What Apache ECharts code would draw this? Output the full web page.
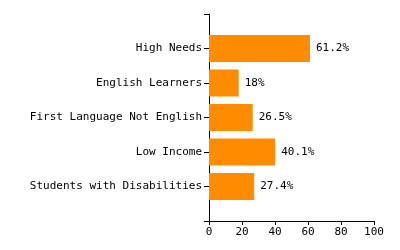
<!DOCTYPE html>
<html>
<head>
<meta charset="utf-8">
<script src="https://cdn.jsdelivr.net/npm/echarts@6/dist/echarts.min.js"></script>
<style>
  html, body { margin: 0; padding: 0; background: #fff; }
  #chart { width: 400px; height: 250px; }
</style>
</head>
<body>
<div id="chart"></div>
<script>
// top to bottom, as in the picture
var categories = ['High Needs', 'English Learners', 'First Language Not English', 'Low Income', 'Students with Disabilities'];
var values = [61.2, 18, 26.5, 40.1, 27.4];
var xTicks = [0, 20, 40, 60, 80, 100];

// pad with an empty slot at each end so the bands sit like a padded band scale
var axisCats = [''].concat(categories).concat(['']);
var axisVals = [null].concat(values).concat([null]);

var font = 'DejaVu Sans Mono';
var chart = echarts.init(document.getElementById('chart'), null, { renderer: 'canvas' });

chart.setOption({
  animation: false,
  grid: { left: 209, right: 26, top: 14, bottom: 29 },
  xAxis: {
    type: 'value',
    min: xTicks[0],
    max: xTicks[xTicks.length - 1],
    interval: 20,
    axisLine: { show: true, lineStyle: { color: '#000', width: 1 } },
    axisTick: { show: true, length: 4, lineStyle: { color: '#000' } },
    splitLine: { show: false },
    axisLabel: { color: '#000', fontFamily: font, fontSize: 11, margin: 6 }
  },
  yAxis: {
    type: 'category',
    inverse: true,
    boundaryGap: false,
    data: axisCats,
    axisLine: { show: true, lineStyle: { color: '#000', width: 1 } },
    axisTick: { show: true, length: 5, interval: 0, lineStyle: { color: '#000' } },
    axisLabel: { color: '#000', fontFamily: font, fontSize: 11, margin: 7, interval: 0 }
  },
  series: [{
    type: 'bar',
    data: axisVals,
    barWidth: 27,
    itemStyle: { color: '#ff8c00' },
    label: {
      show: true,
      position: 'right',
      distance: 6,
      color: '#000',
      fontFamily: font,
      fontSize: 11,
      formatter: function (p) { return p.value + '%'; }
    }
  }]
});
</script>
</body>
</html>
